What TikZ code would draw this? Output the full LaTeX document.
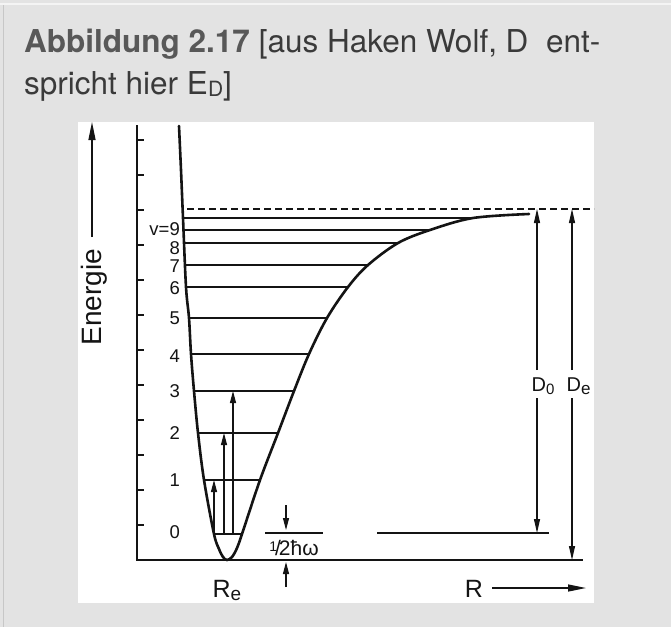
\documentclass[tikz,border=0pt]{standalone}
\usepackage{fontspec}
\setmainfont{TeX Gyre Heros}
\newfontfamily\diagfont{Liberation Sans}
\usetikzlibrary{arrows.meta}
\definecolor{panelbg}{RGB}{227,227,227}
\definecolor{titlebold}{RGB}{88,88,88}
\definecolor{titletext}{RGB}{58,58,58}
\definecolor{inkc}{RGB}{20,20,20}
\begin{document}
\begin{tikzpicture}[x=1pt,y=-1pt,
  pcurve/.style={line width=2.6pt, inkc, line cap=round},
  lvl/.style={line width=1.3pt, inkc},
  axisln/.style={line width=1.6pt, inkc},
  tickln/.style={line width=1.4pt, inkc},
  arr/.style={line width=1.1pt, inkc, -{Triangle[length=12pt,width=6pt]}},
  bigarr/.style={line width=1.3pt, inkc, -{Triangle[length=18pt,width=7pt]}},
  darr/.style={line width=1.1pt, inkc, -{Triangle[length=14pt,width=6pt]}},
  num/.style={anchor=east, inner sep=0pt, font=\diagfont\fontsize{18.5}{18.5}\selectfont, inkc},
  biglab/.style={inner sep=0pt, font=\diagfont\fontsize{25}{25}\selectfont, inkc},
  dlab/.style={anchor=base west, inner sep=0pt, font=\diagfont\fontsize{20}{20}\selectfont, inkc}
]
\useasboundingbox (0,0) rectangle (671,627);
\fill[panelbg] (0,0) rectangle (671,627);
\draw[line width=1.2pt, white!60!panelbg] (0,4) -- (671,4);
\draw[line width=1pt, black!22] (3,5) -- (3,627);
\fill[white] (78,122) rectangle (594,603);

% title
\node[anchor=base west, inner sep=0pt, font=\fontsize{31.5}{42}\selectfont, text=titletext] (title1) at (24,52)
  {\textcolor{titlebold}{\bfseries Abbildung 2.17} [aus Haken Wolf, D\ \ ent-};
\node[anchor=base west, inner sep=0pt, font=\fontsize{31.5}{42}\selectfont, text=titletext] (title2) at (24,94)
  {spricht hier E\raisebox{-2pt}{\fontsize{21}{21}\selectfont D}]};

% axes
\draw[axisln] (137,125) -- (137,560) -- (583,560);
\foreach \k in {1,...,12} {
  \draw[tickln] (137,560-35*\k) -- (144,560-35*\k);
}

% Energie
\coordinate (eA) at (92,237);
\coordinate (eB) at (92,122);
\draw[bigarr] (eA) -- (eB);
\node[biglab, rotate=90, anchor=base, font=\diagfont\fontsize{28}{28}\selectfont] (energie) at (101,297) {Energie};

% dissociation dashed line
\draw[lvl, dash pattern=on 7pt off 4pt] (187,209) -- (594,209);

% levels
\draw[lvl] (183,218) -- (473,218);
\draw[lvl] (184,230) -- (430,230);
\draw[lvl] (184,243) -- (398,243);
\draw[lvl] (185,265) -- (368,265);
\draw[lvl] (186,287) -- (348,287);
\draw[lvl] (189,318) -- (327,318);
\draw[lvl] (191,354) -- (309,354);
\draw[lvl] (194,391) -- (294,391);
\draw[lvl] (198,433) -- (278,433);
\draw[lvl] (204,480) -- (260,480);
\draw[lvl] (214,534) -- (242,534);

% potential curve
\draw[pcurve] plot[smooth, tension=0.55] coordinates {
 (179,126) (181,170) (183,218) (186,287) (189,318) (191,354) (194,391)
 (198,433) (204,480) (214,534) (219,549) (223,557) (227,560) (232,557)
 (237,548) (242,534) (260,480) (278,433) (294,391) (309,354) (327,318)
 (348,287) (368,265) (398,243) (430,230) (473,218) (529,214)};

% level labels
\node[num] (l9) at (180,229) {v=9};
\node[num] (l8) at (180,248) {8};
\node[num] (l7) at (180,266) {7};
\node[num] (l6) at (180,288) {6};
\node[num] (l5) at (180,318) {5};
\node[num] (l4) at (180,356) {4};
\node[num] (l3) at (180,391) {3};
\node[num] (l2) at (180,433) {2};
\node[num] (l1) at (180,480) {1};
\node[num] (l0) at (180,532) {0};

% transitions
\coordinate (t1a) at (214,534); \coordinate (t1b) at (214,480);
\coordinate (t2a) at (224,534); \coordinate (t2b) at (224,433);
\coordinate (t3a) at (233,534); \coordinate (t3b) at (233,391);
\draw[arr] (t1a) -- (t1b);
\draw[arr] (t2a) -- (t2b);
\draw[arr] (t3a) -- (t3b);

% zero point energy
\draw[lvl] (265,533) -- (323,533);
\node[inner sep=0pt, font=\diagfont\fontsize{21}{21}\selectfont, inkc] (hw) at (294,548)
  {\raisebox{4pt}{\fontsize{14}{14}\selectfont 1}\kern-2pt/\kern-2pt2ħω};
\coordinate (hA) at (286,505); \coordinate (hB) at (286,530);
\coordinate (hC) at (286,587); \coordinate (hD) at (286,562);
\draw[arr] (hA) -- (hB);
\draw[arr] (hC) -- (hD);

% right level-0 line
\draw[lvl] (377,533) -- (549,533);

% D0 and De
\coordinate (d0t) at (537,209); \coordinate (d0u) at (537,370);
\coordinate (d0l) at (537,398); \coordinate (d0b) at (537,533);
\draw[darr] (d0u) -- (d0t);
\draw[darr] (d0l) -- (d0b);
\node[dlab] (D0) at (531.5,391) {D\raisebox{-3pt}{\fontsize{15}{15}\selectfont 0}};
\coordinate (det) at (572,209); \coordinate (deu) at (572,370);
\coordinate (del) at (572,398); \coordinate (deb) at (572,560);
\draw[darr] (deu) -- (det);
\draw[darr] (del) -- (deb);
\node[dlab] (De) at (566.5,391) {D\raisebox{-3pt}{\fontsize{17}{17}\selectfont e}};

% R labels
\node[biglab, anchor=base] (Re) at (227,597) {R\raisebox{-3pt}{\fontsize{19}{19}\selectfont e}};
\node[biglab, anchor=base] (R) at (474,597) {R};
\coordinate (rA) at (492,588); \coordinate (rB) at (586,588);
\draw[bigarr] (rA) -- (rB);
\end{tikzpicture}
\end{document}
